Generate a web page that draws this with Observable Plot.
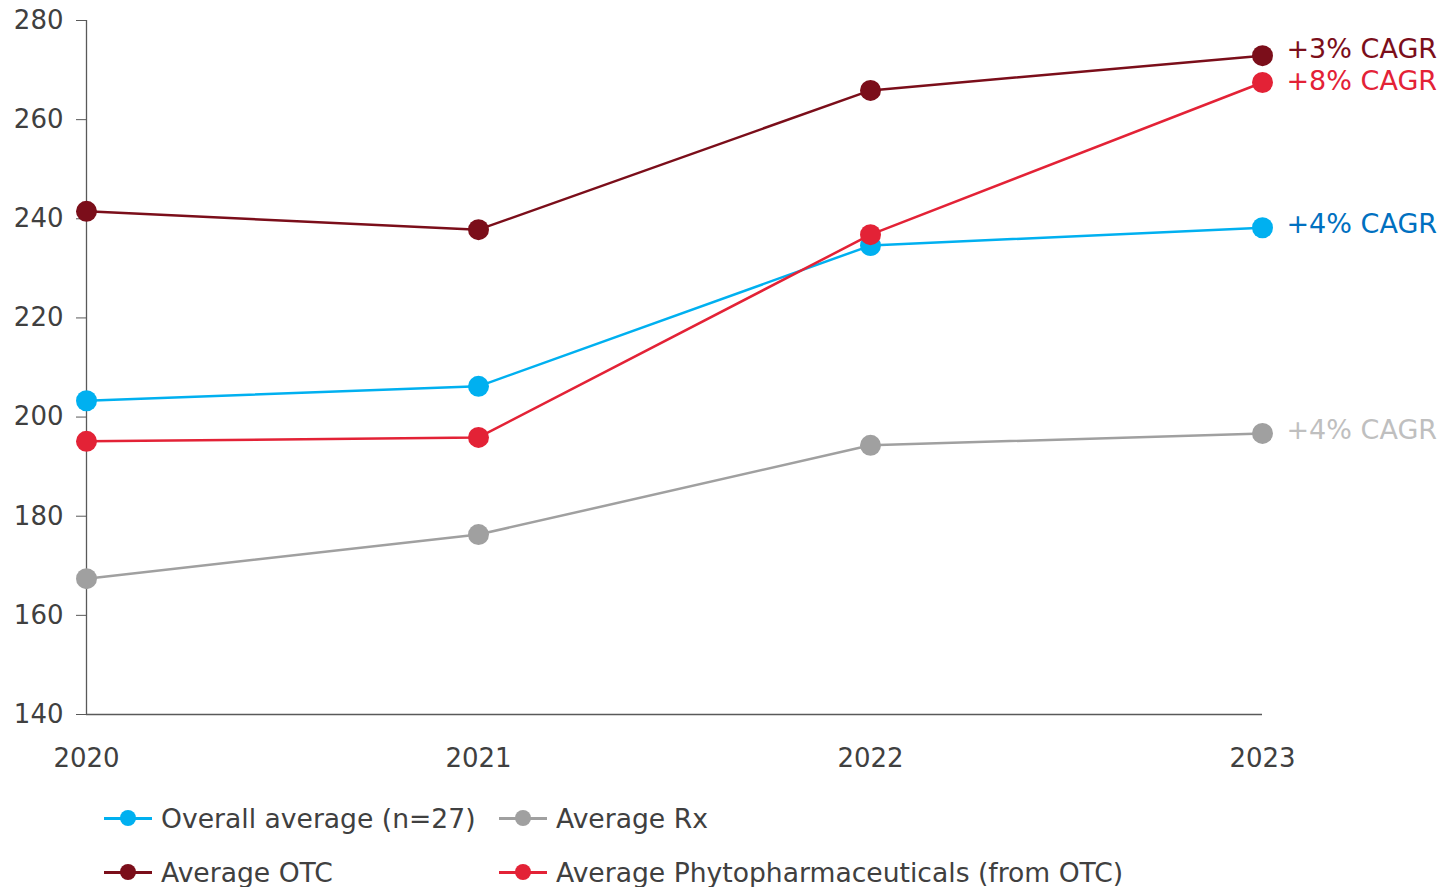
<!DOCTYPE html>
<html>
<head>
<meta charset="utf-8">
<script src="https://cdn.jsdelivr.net/npm/d3@7"></script>
<script src="https://cdn.jsdelivr.net/npm/@observablehq/plot@0.6"></script>
<style>
  html, body { margin: 0; padding: 0; background: #fff; }
  body { width: 1440px; height: 887px; overflow: hidden; font-family: "DejaVu Sans", Verdana, sans-serif; }
  #legend { padding-top: 6px; padding-left: 104px; display: grid; grid-template-columns: 395px auto; }
  .item { height: 54px; display: flex; align-items: center; font-size: 26.6px; color: #404040; white-space: nowrap; }
  .sw { position: relative; width: 48px; height: 20px; margin-right: 9px; flex: none; }
  .sw .ln { position: absolute; left: 0; right: 0; top: 8.5px; height: 3px; }
  .sw .dt { position: absolute; left: 16px; top: 2px; width: 16px; height: 16px; border-radius: 50%; }
</style>
</head>
<body>
<div id="chart"></div>
<div id="legend"></div>
<script>
const years = [2020, 2021, 2022, 2023];
const seriesNames = ["Overall average (n=27)", "Average Rx", "Average OTC", "Average Phytopharmaceuticals (from OTC)"];
const overall = [203.3, 206.2, 234.6, 238.2];
const rx = [167.4, 176.3, 194.3, 196.7];
const otc = [241.5, 237.8, 265.9, 272.9];
const phyto = [195.1, 195.9, 236.8, 267.5];
const cagrLabels = ["+4% CAGR", "+4% CAGR", "+3% CAGR", "+8% CAGR"];
const lineColors = ["#00b0f0", "#a0a0a0", "#7b0e1a", "#e32236"];
const labelColors = ["#0070c0", "#bfbfbf", "#7b0e1a", "#e32236"];
const yTicks = [140, 160, 180, 200, 220, 240, 260, 280];

const valuesBySeries = [overall, rx, otc, phyto];
const data = [];
seriesNames.forEach((s, i) => years.forEach((yr, j) => data.push({series: s, year: yr, value: valuesBySeries[i][j]})));
const lastPoints = seriesNames.map((s, i) => ({idx: i, series: s, year: years[years.length - 1], value: valuesBySeries[i][years.length - 1], label: cagrLabels[i], lc: labelColors[i]}));
const labelDy = [-3, -3, -6, -1];

const drawOrder = [1, 0, 3, 2];
const marks = [
  Plot.ruleY([140], {stroke: "#595959", strokeWidth: 1.3}),
  Plot.ruleX([2020], {stroke: "#595959", strokeWidth: 1.3}),
  Plot.axisY({ticks: yTicks, tickSize: 10, tickPadding: 13, fontSize: 26, color: "#404040", stroke: "#595959", label: null}),
  Plot.axisX({ticks: years, tickFormat: "d", tickSize: 0, tickPadding: 34, fontSize: 26, color: "#404040", label: null})
];
drawOrder.forEach(i => {
  const d = data.filter(r => r.series === seriesNames[i]);
  marks.push(Plot.line(d, {x: "year", y: "value", stroke: lineColors[i], strokeWidth: 2.5}));
  marks.push(Plot.dot(d, {x: "year", y: "value", fill: lineColors[i], r: 10.5}));
});
lastPoints.forEach(p => {
  marks.push(Plot.text([p], {x: "year", y: "value", text: "label", fill: "lc", dx: 24, dy: labelDy[p.idx], textAnchor: "start", fontSize: 27}));
});

const chart = Plot.plot({
  width: 1440,
  height: 785,
  marginLeft: 86,
  marginRight: 178,
  marginTop: 20,
  marginBottom: 71,
  style: {fontFamily: "DejaVu Sans, Verdana, sans-serif", background: "#fff", overflow: "visible"},
  x: {domain: [2020, 2023], axis: null},
  y: {domain: [140, 280], axis: null},
  marks
});
document.getElementById("chart").appendChild(chart);

const legend = document.getElementById("legend");
[0, 1, 2, 3].forEach(i => {
  const it = document.createElement("div");
  it.className = "item";
  it.innerHTML = `<span class="sw"><span class="ln" style="background:${lineColors[i]}"></span><span class="dt" style="background:${lineColors[i]}"></span></span><span>${seriesNames[i]}</span>`;
  legend.appendChild(it);
});
</script>
</body>
</html>
